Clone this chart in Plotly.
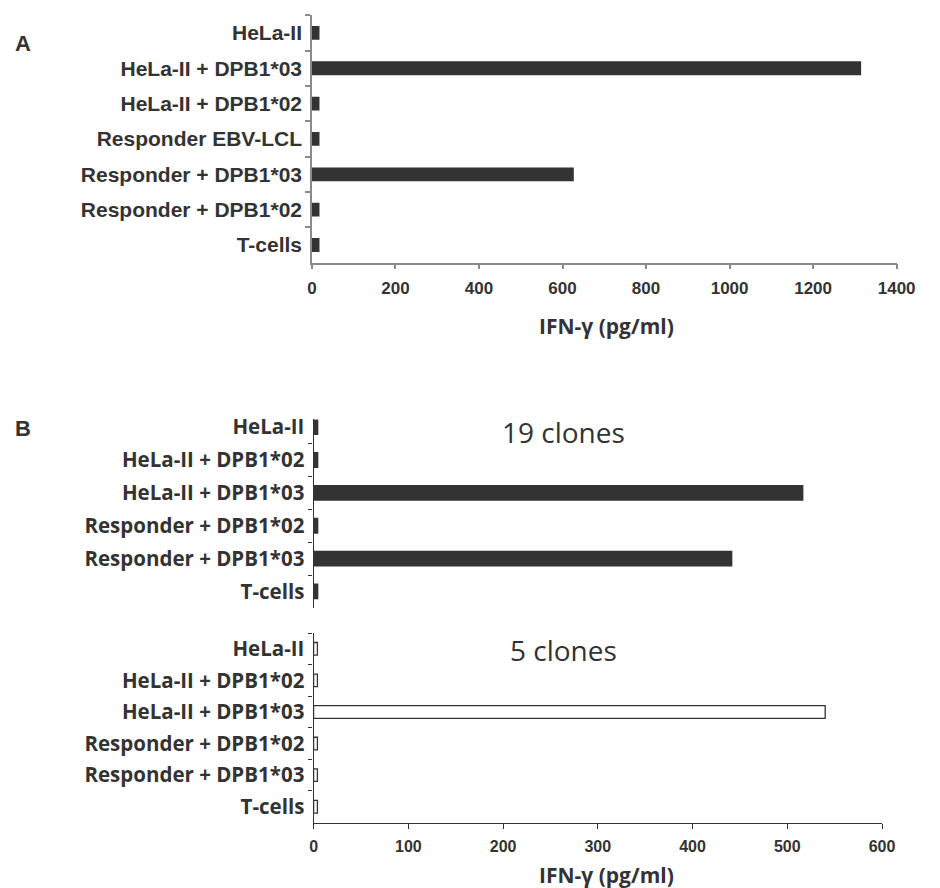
import plotly.graph_objects as go

# ---- data ----
cats_a = ["HeLa-II", "HeLa-II + DPB1*03", "HeLa-II + DPB1*02", "Responder EBV-LCL",
          "Responder + DPB1*03", "Responder + DPB1*02", "T-cells"]
vals_a = [18, 1315, 18, 18, 627, 18, 18]

cats_b = ["HeLa-II", "HeLa-II + DPB1*02", "HeLa-II + DPB1*03",
          "Responder + DPB1*02", "Responder + DPB1*03", "T-cells"]
vals_b19 = [5, 5, 517, 5, 442, 5]
vals_b5 = [4, 4, 540, 4, 4, 4]

ticks_a = [0, 200, 400, 600, 800, 1000, 1200, 1400]
ticks_b = [0, 100, 200, 300, 400, 500, 600]

x_title = "IFN-γ (pg/ml)"
txt = "#333333"
bar_dark = "#333333"

W, H = 940, 888


def px_x(p):
    return p / W


def px_y(p):
    return 1 - p / H


fig = go.Figure()

fig.add_trace(go.Bar(y=cats_a, x=vals_a, orientation="h", xaxis="x", yaxis="y",
                     width=0.39,
                     marker=dict(color=bar_dark, line=dict(width=0)), showlegend=False))
fig.add_trace(go.Bar(y=cats_b, x=vals_b19, orientation="h", xaxis="x2", yaxis="y2",
                     width=0.48,
                     marker=dict(color=bar_dark, line=dict(width=0)), showlegend=False))
fig.add_trace(go.Bar(y=cats_b, x=vals_b5, orientation="h", xaxis="x3", yaxis="y3",
                     width=0.4,
                     marker=dict(color="white", line=dict(color="#333333", width=1.3)),
                     showlegend=False))

arial_b = dict(family="Liberation Sans, Arial", color=txt, weight="bold")
open_b = dict(family="Open Sans", color=txt, weight="bold")

fig.update_layout(
    width=W, height=H,
    margin=dict(l=0, r=0, t=0, b=0),
    paper_bgcolor="white", plot_bgcolor="white",
    # panel A
    xaxis=dict(domain=[px_x(315), px_x(915)], anchor="y", range=[0, 1400],
               tickvals=ticks_a, showgrid=False, zeroline=False,
               showline=True, linecolor="#8a8a8a", linewidth=1.5,
               ticks="outside", ticklen=5, tickcolor="#8a8a8a", tickwidth=1.5,
               tickfont=dict(size=17, **arial_b), ticklabelstandoff=4),
    yaxis=dict(domain=[px_y(257.7), px_y(8.3)], anchor="x", type="category",
               categoryorder="array", categoryarray=cats_a, range=[6.5, -0.5],
               showgrid=False, zeroline=False, showline=True,
               linecolor="#8a8a8a", linewidth=1.5,
               ticks="outside", tickson="boundaries", ticklen=5,
               tickcolor="#8a8a8a", tickwidth=1.5,
               tickfont=dict(size=21, **arial_b), ticklabelstandoff=4),
    # panel B, 19 clones
    xaxis2=dict(domain=[px_x(316.7), px_x(900)], anchor="y2", range=[0, 600],
                visible=False, showgrid=False, zeroline=False),
    yaxis2=dict(domain=[px_y(605.7), px_y(415.7)], anchor="x2", type="category",
                categoryorder="array", categoryarray=cats_b, range=[5.5, -0.234],
                showgrid=False, zeroline=False, showline=True,
                linecolor="#333333", linewidth=1.3,
                ticks="outside", tickson="boundaries", ticklen=4,
                tickcolor="#333333", tickwidth=1.3,
                tickfont=dict(size=20.5, **open_b), ticklabelstandoff=4),
    # panel B, 5 clones
    xaxis3=dict(domain=[px_x(316.7), px_x(900)], anchor="y3", range=[0, 600],
                tickvals=ticks_b, showgrid=False, zeroline=False,
                showline=True, linecolor="#333333", linewidth=1.3,
                ticks="outside", ticklen=5, tickcolor="#333333", tickwidth=1.3,
                tickfont=dict(size=16, **arial_b), ticklabelstandoff=4),
    yaxis3=dict(domain=[px_y(822), px_y(631)], anchor="x3", type="category",
                categoryorder="array", categoryarray=cats_b, range=[5.5, -0.5],
                showgrid=False, zeroline=False, showline=True,
                linecolor="#333333", linewidth=1.3,
                ticks="outside", tickson="boundaries", ticklen=4,
                tickcolor="#333333", tickwidth=1.3,
                tickfont=dict(size=20.5, **open_b), ticklabelstandoff=4),
)

# short tick closing the top of the 19-clone axis
fig.add_shape(type="line", xref="x2", yref="y2 domain", xsizemode="pixel", xanchor=0,
              x0=-4, x1=0, y0=1, y1=1, line=dict(color="#333333", width=1.3))

annos = [
    dict(text="A", x=px_x(18), y=px_y(37), font=dict(size=22, **arial_b)),
    dict(text="B", x=px_x(18), y=px_y(424.5), font=dict(size=22, **arial_b)),
    dict(text=x_title, x=px_x(617), y=px_y(322),
         font=dict(size=21, **open_b)),
    dict(text=x_title, x=px_x(617), y=px_y(875),
         font=dict(size=21, **open_b)),
    dict(text="19 clones", x=px_x(573), y=px_y(428),
         font=dict(size=28, family="Open Sans", color=txt)),
    dict(text="5 clones", x=px_x(573), y=px_y(648),
         font=dict(size=28, family="Open Sans", color=txt)),
]
for a in annos:
    fig.add_annotation(xref="paper", yref="paper", showarrow=False,
                       xanchor="center", yanchor="middle", **a)

fig.write_html("out.html")
